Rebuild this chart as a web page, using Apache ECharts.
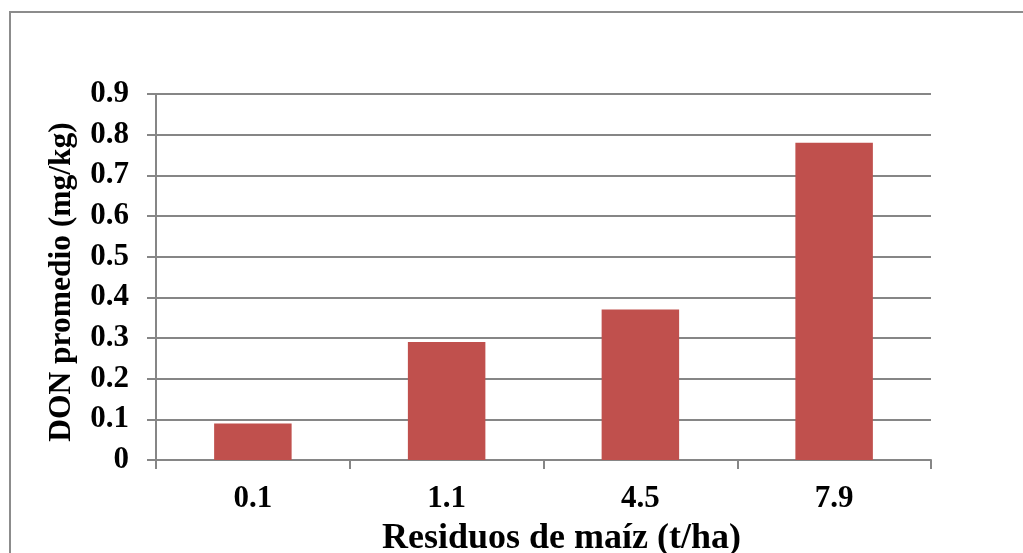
<!DOCTYPE html>
<html>
<head>
<meta charset="utf-8">
<script src="https://cdn.jsdelivr.net/npm/echarts@6/dist/echarts.min.js"></script>
<style>
  html, body { margin: 0; padding: 0; background: #fff; }
  #chart { width: 1023px; height: 553px; }
</style>
</head>
<body>
<div id="chart"></div>
<script>
// Residuos de maíz (t/ha) vs DON promedio (mg/kg)
const categories = ['0.1', '1.1', '4.5', '7.9'];
const donValues = [0.09, 0.29, 0.37, 0.78];
const xTitle = 'Residuos de maíz (t/ha)';
const yTitle = 'DON promedio (mg/kg)';

const FONT = '"Liberation Serif", "Times New Roman", serif';
const GRID_COLOR = '#868686';

const chart = echarts.init(document.getElementById('chart'), null, { renderer: 'canvas' });

chart.setOption({
  animation: false,
  backgroundColor: '#ffffff',
  // chart-area frame, running off the right and bottom edges
  graphic: [{
    type: 'rect',
    shape: { x: 10, y: 12, width: 1100, height: 700 },
    style: { fill: 'none', stroke: '#8c8c8c', lineWidth: 2 },
    silent: true
  }],
  grid: { left: 156, right: 92, top: 94, bottom: 93, containLabel: false, outerBoundsMode: 'none' },
  xAxis: {
    type: 'category',
    data: categories,
    boundaryGap: true,
    axisLine: { show: true, lineStyle: { color: GRID_COLOR, width: 2 } },
    axisTick: { show: true, length: 9, inside: false, lineStyle: { color: GRID_COLOR, width: 2 } },
    axisLabel: { color: '#000', fontFamily: FONT, fontWeight: 'bold', fontSize: 31, margin: 23 },
    name: xTitle,
    nameLocation: 'middle',
    nameGap: 61,
    nameTextStyle: { color: '#000', fontFamily: FONT, fontWeight: 'bold', fontSize: 36, padding: [0, 0, 0, 36] }
  },
  yAxis: {
    type: 'value',
    min: 0,
    max: 0.9,
    interval: 0.1,
    axisLine: { show: true, lineStyle: { color: GRID_COLOR, width: 2 } },
    axisTick: { show: true, length: 9, lineStyle: { color: GRID_COLOR, width: 2 } },
    splitLine: { show: true, lineStyle: { color: GRID_COLOR, width: 2 } },
    axisLabel: {
      color: '#000', fontFamily: FONT, fontWeight: 'bold', fontSize: 31, margin: 27,
      formatter: v => (v === 0 ? '0' : v.toFixed(1))
    },
    name: yTitle,
    nameLocation: 'middle',
    nameGap: 78,
    nameRotate: 90,
    nameTextStyle: { color: '#000', fontFamily: FONT, fontWeight: 'bold', fontSize: 31.5, padding: [0, 10, 0, 0] }
  },
  series: [{
    type: 'bar',
    data: donValues,
    barCategoryGap: '60%',
    itemStyle: { color: '#C0504D' }
  }]
});
</script>
</body>
</html>
